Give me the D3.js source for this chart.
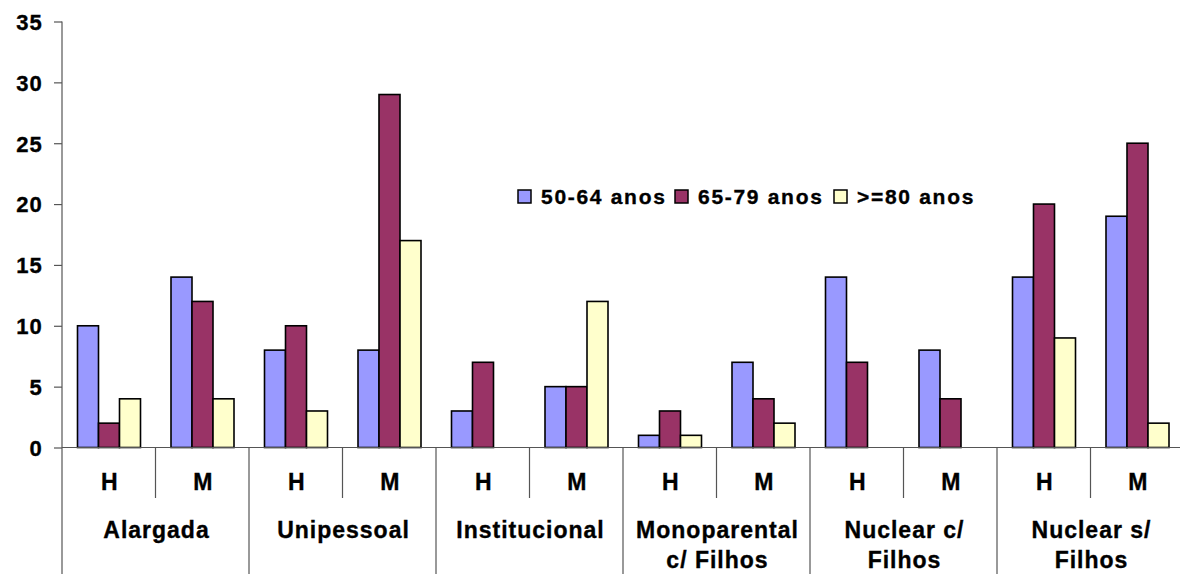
<!DOCTYPE html>
<html><head><meta charset="utf-8">
<script src="https://cdn.jsdelivr.net/npm/d3@7"></script>
<style>
html,body{margin:0;padding:0;background:#fff;overflow:hidden}
text{font-family:"Liberation Sans",Arial,sans-serif;font-weight:bold;fill:#000;stroke:#000;stroke-width:0.35px}
</style></head>
<body><svg id="c" width="1180" height="574"></svg>
<script>
const groups = ["Alargada","Unipessoal","Institucional","Monoparental c/ Filhos","Nuclear c/ Filhos","Nuclear s/ Filhos"];
const groupLines = [["Alargada"],["Unipessoal"],["Institucional"],["Monoparental","c/ Filhos"],["Nuclear c/","Filhos"],["Nuclear s/","Filhos"]];
const sexes = ["H","M"];
const seriesNames = ["50-64 anos","65-79 anos",">=80 anos"];
const seriesColors = ["#9999FF","#993366","#FFFFCC"];
const v5064 = [10,14, 8,8, 3,5, 1,7, 14,8, 14,19];
const v6579 = [2,12, 10,29, 7,5, 3,4, 7,4, 20,25];
const v80   = [4,4, 3,17, 0,12, 1,2, 0,0, 9,2];
const seriesValues = [v5064, v6579, v80];
const yTicks = [0,5,10,15,20,25,30,35];

const svg = d3.select("#c");
const pLeft = 62, pRight = 1184, pTop = 21.5, pBase = 447.5;
const keys = [];
groups.forEach(g => sexes.forEach(s => keys.push(g + "|" + s)));
const x0 = d3.scaleBand().domain(keys).range([pLeft, pRight]).padding(0);
const x1 = d3.scaleBand().domain(seriesNames).range([15.5, 78.5]).padding(0);
const y = d3.scaleLinear().domain([0, 35]).range([pBase, pTop]);
const gx = d3.scaleBand().domain(groups).range([pLeft, pRight]).padding(0);

// bars
seriesNames.forEach((sn, si) => {
  svg.append("g").selectAll("rect")
    .data(keys.map((k, i) => ({k, v: seriesValues[si][i]})).filter(d => d.v > 0))
    .join("rect")
    .attr("x", d => x0(d.k) + x1(sn))
    .attr("y", d => y(d.v))
    .attr("width", x1.bandwidth())
    .attr("height", d => pBase - y(d.v))
    .attr("fill", seriesColors[si])
    .attr("stroke", "#000")
    .attr("stroke-width", 1.6);
});

// y axis
const ya = svg.append("g").attr("transform", `translate(${pLeft},0)`)
  .call(d3.axisLeft(y).tickValues(yTicks).tickSize(8).tickPadding(11).tickSizeOuter(8));
ya.select(".domain").remove();
ya.selectAll(".tick line").attr("stroke", "#555").attr("stroke-width", 1.2);
ya.selectAll("text").style("font-size", "22px").style("letter-spacing", "1.2px").attr("dy", "0.36em").attr("fill", "#000");
svg.append("line").attr("x1", pLeft).attr("x2", pLeft).attr("y1", pTop).attr("y2", 574)
  .attr("stroke", "#555").attr("stroke-width", 1.2);

// x axis line
svg.append("line").attr("x1", pLeft).attr("x2", pRight).attr("y1", pBase).attr("y2", pBase)
  .attr("stroke", "#555").attr("stroke-width", 1.2);

// separators
groups.forEach(g => {
  const xm = x0(g + "|M");
  svg.append("line").attr("x1", xm).attr("x2", xm).attr("y1", pBase).attr("y2", 498)
    .attr("stroke", "#555").attr("stroke-width", 1.2);
  const xe = gx(g) + gx.bandwidth();
  svg.append("line").attr("x1", xe).attr("x2", xe).attr("y1", pBase).attr("y2", 574)
    .attr("stroke", "#555").attr("stroke-width", 1.2);
});

// H / M labels
svg.append("g").selectAll("text").data(keys).join("text")
  .attr("x", d => x0(d) + x0.bandwidth() / 2 + 1)
  .attr("y", 482)
  .attr("dy", "0.36em")
  .attr("text-anchor", "middle")
  .style("font-size", "23px")
  .style("letter-spacing", "1px")
  .text(d => d.split("|")[1]);

// group labels
groups.forEach((g, gi) => {
  const cx = gx(g) + gx.bandwidth() / 2 + 1;
  groupLines[gi].forEach((ln, li) => {
    svg.append("text").attr("x", cx).attr("y", 530 + li * 30).attr("dy", "0.36em")
      .attr("text-anchor", "middle").style("font-size", "23px").style("letter-spacing", "1px")
      .text(ln);
  });
});

// legend
const legX = [518, 675, 834];
seriesNames.forEach((sn, i) => {
  svg.append("rect").attr("x", legX[i]).attr("y", 190).attr("width", 13).attr("height", 13)
    .attr("fill", seriesColors[i]).attr("stroke", "#000").attr("stroke-width", 1.5);
  svg.append("text").attr("x", legX[i] + 23).attr("y", 196.5).attr("dy", "0.36em")
    .style("font-size", "21px").style("letter-spacing", "1.7px").text(sn);
});
</script></body></html>
